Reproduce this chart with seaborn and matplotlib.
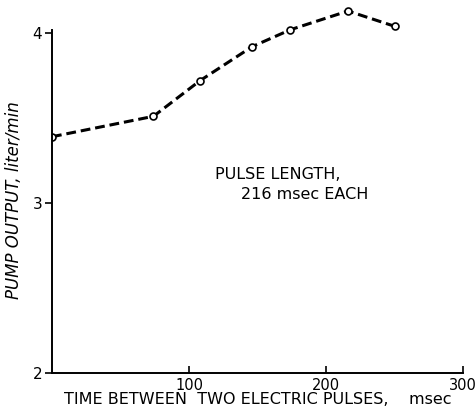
import matplotlib
matplotlib.use("Agg")
import matplotlib.pyplot as plt
import seaborn as sns
import pandas as pd

# values
pulse_gap_ms = [0, 74, 108, 146, 174, 216, 250]
pump_output = [3.39, 3.51, 3.72, 3.92, 4.02, 4.13, 4.04]
x_ticks = [100, 200, 300]
y_ticks = [2, 3, 4]

sns.set_style("ticks")
plt.rcParams["font.family"] = ["DejaVu Sans"]
plt.rcParams.update({"text.color": "black", "axes.labelcolor": "black",
                     "xtick.color": "black", "ytick.color": "black",
                     "axes.edgecolor": "black"})

df = pd.DataFrame({"gap": pulse_gap_ms, "output": pump_output})

fig = plt.figure(figsize=(4.77, 4.18), dpi=100)
ax = fig.add_axes([0.109, 0.108, 0.862, 0.886])

sns.lineplot(data=df, x="gap", y="output", ax=ax, color="black",
             linewidth=2.2, linestyle=(0, (3.2, 1.6)), marker="o",
             markersize=5, markerfacecolor="white", markeredgecolor="black",
             markeredgewidth=1.2)

ax.set_xlim(0, 300)
ax.set_ylim(2, 4.18)
ax.spines["top"].set_visible(False)
ax.spines["right"].set_visible(False)
ax.spines["left"].set_bounds(2, 4.02)
ax.spines["left"].set_linewidth(1.4)
ax.spines["bottom"].set_linewidth(1.4)

ax.set_xticks(x_ticks)
ax.set_yticks(y_ticks)
ax.tick_params(axis="x", direction="in", length=5, width=1.2, labelsize=10.5, pad=4)
ax.tick_params(axis="y", direction="out", length=5, width=1.2, labelsize=11, pad=2)

ax.set_xlabel("TIME BETWEEN  TWO ELECTRIC PULSES,    msec", fontsize=11.5, labelpad=-1)
ax.set_ylabel("PUMP OUTPUT, liter/min", fontsize=12, style="italic")
ax.yaxis.set_label_coords(-0.07, 0.467)

ax.text(119, 3.17, "PULSE LENGTH,", fontsize=11.5, va="center", ha="left")
ax.text(138, 3.05, "216 msec EACH", fontsize=11.5, va="center", ha="left")

fig.savefig("out.png", dpi=100)
